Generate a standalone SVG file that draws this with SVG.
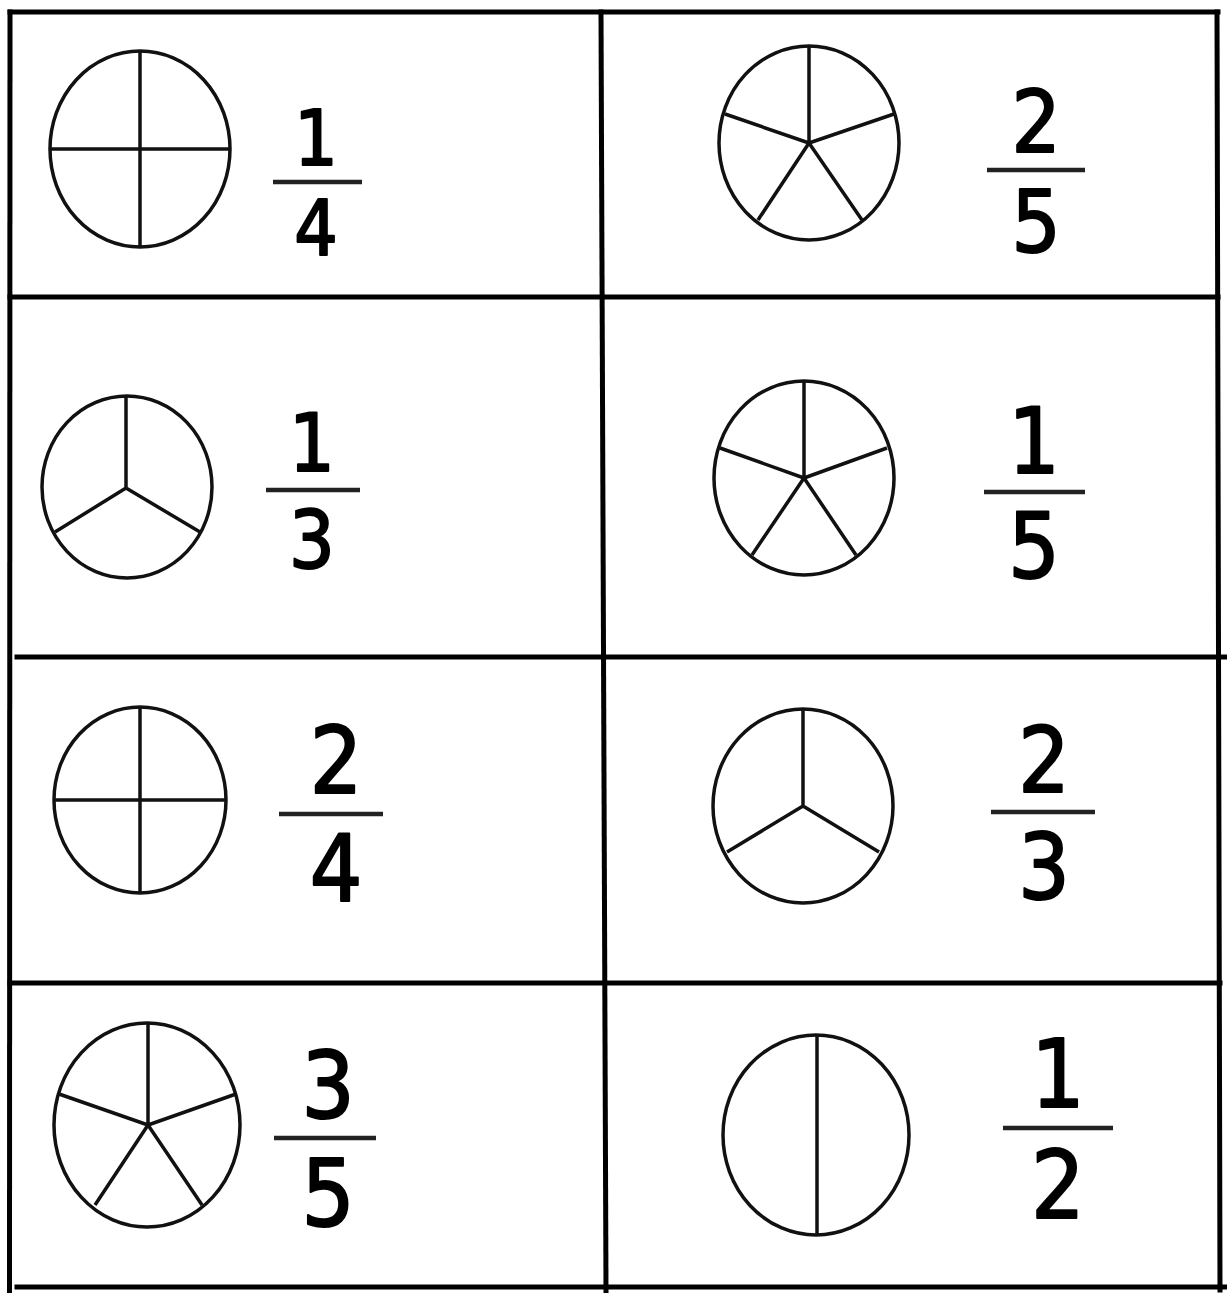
<svg xmlns="http://www.w3.org/2000/svg" width="1227" height="1293" viewBox="0 0 1227 1293">
<style>
.grid{stroke:#000;stroke-width:5;fill:none;stroke-linecap:square}
.pie{stroke:#111;stroke-width:3.5;fill:#fff}
.sp{stroke:#111;stroke-width:3.5;fill:none}
.bar{stroke:#222;stroke-width:4.5}
.num{font-family:"DejaVu Sans Condensed","DejaVu Sans","Liberation Sans",sans-serif;fill:#000;stroke:#000;stroke-width:2;stroke-linejoin:round;text-anchor:middle}
</style>
<rect width="1227" height="1293" fill="#fff"/>
<g id="table" class="grid">
<line x1="10" y1="12" x2="1218" y2="12"/>
<line x1="10" y1="12" x2="9.5" y2="1293"/>
<line x1="1217" y1="12" x2="1220" y2="1290"/>
<line x1="601" y1="12" x2="606" y2="1293"/>
<line x1="10" y1="297" x2="1218" y2="297"/>
<line x1="17" y1="657" x2="1227" y2="657"/>
<line x1="10" y1="983" x2="1220" y2="983"/>
<line x1="17" y1="1287" x2="1227" y2="1287"/>
</g>
<g id="cell-1-4">
<ellipse class="pie" cx="140" cy="149" rx="90" ry="98"/>
<path class="sp" d="M140 51V247M50 149H230"/>
<text class="num" x="316" y="165" font-size="76">1</text>
<line class="bar" x1="273" y1="182" x2="362" y2="182"/>
<text class="num" x="316" y="255" font-size="76">4</text>
</g>
<g id="cell-2-5">
<ellipse class="pie" cx="809" cy="143" rx="90" ry="97"/>
<path class="sp" d="M809 46V143M809 143L725 114M809 143L894 114M809 143L758 220M809 143L862 220"/>
<text class="num" x="1036" y="152" font-size="86">2</text>
<line class="bar" x1="987" y1="170" x2="1085" y2="170"/>
<text class="num" x="1036" y="252" font-size="86">5</text>
</g>
<g id="cell-1-3">
<ellipse class="pie" cx="127" cy="487" rx="85" ry="91"/>
<path class="sp" d="M126 396V488M126 488L55 532M126 488L200 532"/>
<text class="num" x="312" y="471" font-size="80">1</text>
<line class="bar" x1="266" y1="490" x2="360" y2="490"/>
<text class="num" x="312" y="568" font-size="80">3</text>
</g>
<g id="cell-1-5">
<ellipse class="pie" cx="804" cy="478" rx="90" ry="97"/>
<path class="sp" d="M804 381V478M804 478L720 448M804 478L887 448M804 478L752 555M804 478L856 555"/>
<text class="num" x="1034" y="473" font-size="90">1</text>
<line class="bar" x1="984" y1="492" x2="1085" y2="492"/>
<text class="num" x="1034" y="578" font-size="90">5</text>
</g>
<g id="cell-2-4">
<ellipse class="pie" cx="140" cy="800" rx="86" ry="93"/>
<path class="sp" d="M140 707V893M54 800H226"/>
<text class="num" x="336" y="793" font-size="92">2</text>
<line class="bar" x1="279" y1="814" x2="383" y2="814"/>
<text class="num" x="336" y="901" font-size="92">4</text>
</g>
<g id="cell-2-3">
<ellipse class="pie" cx="803" cy="806" rx="90" ry="97"/>
<path class="sp" d="M803 709V806M803 806L727 852M803 806L879 852"/>
<text class="num" x="1044" y="792" font-size="90">2</text>
<line class="bar" x1="991" y1="812" x2="1095" y2="812"/>
<text class="num" x="1044" y="899" font-size="90">3</text>
</g>
<g id="cell-3-5">
<ellipse class="pie" cx="147" cy="1125" rx="93" ry="102"/>
<path class="sp" d="M148 1023V1125M148 1125L59 1094M148 1125L236 1094M148 1125L95 1205M148 1125L202 1205"/>
<text class="num" x="328" y="1118" font-size="93">3</text>
<line class="bar" x1="274" y1="1138" x2="376" y2="1138"/>
<text class="num" x="328" y="1226" font-size="93">5</text>
</g>
<g id="cell-1-2">
<ellipse class="pie" cx="816" cy="1135" rx="93" ry="100"/>
<path class="sp" d="M817 1035V1235"/>
<text class="num" x="1058" y="1107" font-size="94">1</text>
<line class="bar" x1="1003" y1="1128" x2="1113" y2="1128"/>
<text class="num" x="1058" y="1218" font-size="94">2</text>
</g>
</svg>
